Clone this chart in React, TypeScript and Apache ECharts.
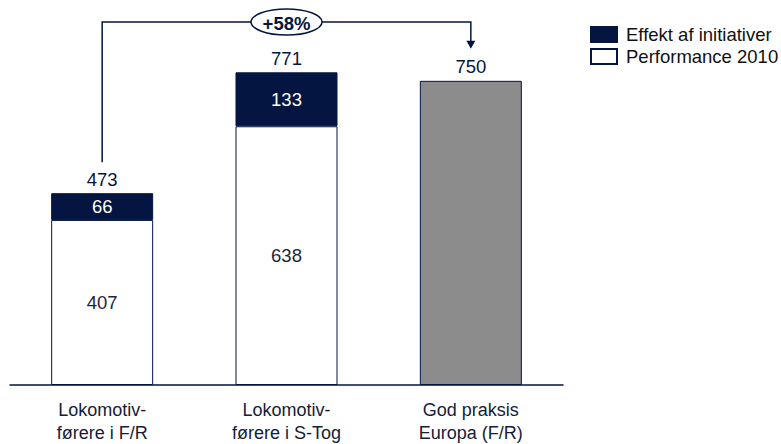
import React, { useEffect, useRef } from "react";
import * as echarts from "echarts";

const categories = ["Lokomotiv-\nførere i F/R", "Lokomotiv-\nførere i S-Tog", "God praksis\nEuropa (F/R)"];
const performance2010 = [407, 638, null];
const effektAfInitiativer = [66, 133, null];
const godPraksis = [null, null, 750];
const totals = [473, 771, 750];
const changeLabel = "+58%";
const legendNames = ["Effekt af initiativer", "Performance 2010"];

const NAVY = "#031540";
const FONT = "Liberation Sans, Arial, sans-serif";

export default function App() {
  const ref = useRef<HTMLDivElement>(null);
  useEffect(() => {
    if (!ref.current) return;
    const chart = echarts.init(ref.current, undefined, { renderer: "svg" });
    chart.setOption({
      animation: false,
      textStyle: { fontFamily: FONT },
      grid: { left: 10, right: 218, top: 20, bottom: 56, containLabel: false },
      legend: {
        data: legendNames,
        orient: "vertical",
        left: 590,
        top: 25,
        padding: 0,
        itemWidth: 26,
        itemHeight: 15,
        itemGap: 3,
        icon: "rect",
        selectedMode: false,
        textStyle: { fontSize: 18.5, color: "#111", fontFamily: FONT, padding: [0, 0, 0, 4] },
      },
      xAxis: {
        type: "category",
        data: categories,
        axisLine: { show: true, lineStyle: { color: NAVY, width: 1.5 } },
        axisTick: { show: false },
        axisLabel: { fontSize: 18, color: "#141c38", lineHeight: 22.5, margin: 14, fontFamily: FONT },
      },
      yAxis: {
        type: "value",
        min: 0,
        max: 900,
        show: false,
        splitLine: { show: false },
      },
      series: [
        {
          name: legendNames[1],
          type: "bar",
          stack: "s",
          barWidth: 102,
          data: performance2010,
          itemStyle: { color: "#ffffff", borderColor: NAVY, borderWidth: 1 },
          label: { show: true, position: "inside", fontSize: 18.5, color: "#1c2540", fontFamily: FONT },
        },
        {
          name: legendNames[0],
          type: "bar",
          stack: "s",
          barWidth: 102,
          data: effektAfInitiativer,
          itemStyle: { color: NAVY, borderColor: NAVY, borderWidth: 1 },
          label: { show: true, position: "inside", fontSize: 18.5, color: "#ffffff", fontFamily: FONT },
        },
        {
          name: "God praksis",
          type: "bar",
          stack: "s",
          barWidth: 102,
          data: godPraksis,
          itemStyle: { color: "#8c8c8c", borderColor: NAVY, borderWidth: 1 },
          label: { show: false },
        },
        {
          name: "Total",
          type: "scatter",
          data: totals,
          symbol: "rect",
          symbolSize: 1,
          itemStyle: { color: "transparent", opacity: 1 },
          label: { show: true, position: "top", distance: 4, fontSize: 18.5, color: NAVY, fontFamily: FONT },
          emphasis: { disabled: true },
          silent: true,
        },
      ],
    });

    const px = (i: number, v: number) =>
      chart.convertToPixel({ xAxisIndex: 0, yAxisIndex: 0 }, [i, v]) as number[];
    const a = px(0, totals[0]);
    const b = px(1, totals[1]);
    const c = px(2, totals[2]);
    const yTop = 22;
    const leftBottom = a[1] - 31;
    const tip = c[1] - 32;
    chart.setOption({
      graphic: [
        {
          type: "polyline",
          shape: { points: [[a[0], leftBottom], [a[0], yTop], [c[0], yTop], [c[0], tip - 7]] },
          style: { stroke: NAVY, lineWidth: 1.5, fill: "none" },
        },
        {
          type: "polygon",
          shape: { points: [[c[0] - 4.5, tip - 8], [c[0] + 4.5, tip - 8], [c[0], tip]] },
          style: { fill: NAVY },
        },
        {
          type: "ellipse",
          shape: { cx: b[0], cy: yTop, rx: 35.5, ry: 13 },
          style: { fill: "#ffffff", stroke: NAVY, lineWidth: 1.5 },
        },
        {
          type: "text",
          x: b[0],
          y: yTop + 1,
          style: {
            text: changeLabel,
            fill: NAVY,
            font: `bold 18.5px ${FONT}`,
            align: "center",
            verticalAlign: "middle",
          },
        },
      ],
    });
    return () => chart.dispose();
  }, []);
  return (
    <div
      ref={ref}
      style={{ position: "absolute", left: 0, top: 0, width: 781, height: 444 }}
    />
  );
}
